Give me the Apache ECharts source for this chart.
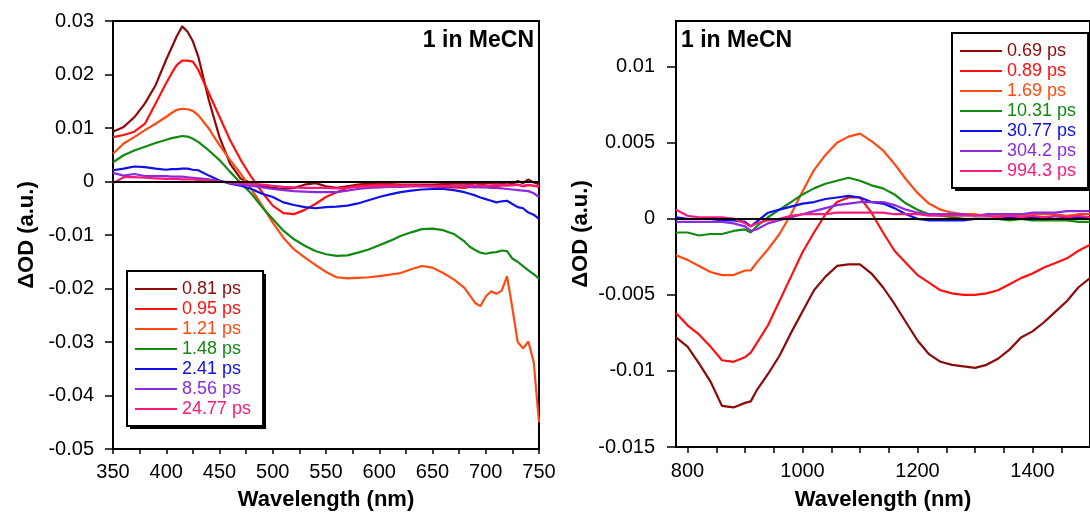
<!DOCTYPE html>
<html><head><meta charset="utf-8">
<script src="https://cdn.jsdelivr.net/npm/echarts@6/dist/echarts.min.js"></script>
<style>html,body{margin:0;padding:0;background:#fff}#c{width:1090px;height:516px}</style>
</head><body><div id="c"></div>
<script>
// ---------- Left panel (visible region) ----------
const wlLeft = [350,360,370,380,390,400,405,410,415,420,425,430,440,450,460,470,480,490,500,510,520,530,540,550,560,570,580,590,600,610,620,630,640,650,660,670,680,685,690,695,700,705,710,715,720,725,730,735,740,745,750];
const left081 = [0.0093,0.0102,0.0120,0.0146,0.0180,0.0228,0.0250,0.0272,0.0290,0.0280,0.0262,0.0234,0.0152,0.0083,0.0033,0.0005,-0.0003,-0.0008,-0.0012,-0.0014,-0.0012,-0.0006,-0.0003,-0.0009,-0.0012,-0.0009,-0.0006,-0.0004,-0.0004,-0.0005,-0.0006,-0.0006,-0.0006,-0.0006,-0.0005,-0.0004,-0.0004,-0.0005,-0.0003,-0.0005,-0.0004,-0.0002,-0.0004,-0.0003,-0.0002,-0.0005,0.0001,-0.0003,0.0004,-0.0002,-0.0005];
const left095 = [0.0083,0.0087,0.0093,0.0108,0.0146,0.0184,0.0202,0.0218,0.0226,0.0226,0.0224,0.0209,0.0165,0.0121,0.0077,0.0040,0.0008,-0.0020,-0.0045,-0.0059,-0.0061,-0.0053,-0.0042,-0.0029,-0.0020,-0.0012,-0.0008,-0.0007,-0.0006,-0.0006,-0.0007,-0.0007,-0.0008,-0.0009,-0.0011,-0.0011,-0.0012,-0.0010,-0.0011,-0.0009,-0.0009,-0.0008,-0.0009,-0.0007,-0.0008,-0.0007,-0.0006,-0.0009,-0.0007,-0.0008,-0.0010];
const left121 = [0.0052,0.0071,0.0083,0.0096,0.0108,0.0121,0.0128,0.0134,0.0136,0.0135,0.0132,0.0124,0.0099,0.0068,0.0040,0.0014,-0.0014,-0.0045,-0.0077,-0.0105,-0.0127,-0.0142,-0.0156,-0.0169,-0.0179,-0.0181,-0.0180,-0.0179,-0.0177,-0.0174,-0.0171,-0.0164,-0.0158,-0.0161,-0.0171,-0.0183,-0.0199,-0.0213,-0.0227,-0.0233,-0.0215,-0.0205,-0.0210,-0.0204,-0.0177,-0.0237,-0.0300,-0.0312,-0.0299,-0.0337,-0.0450];
const left148 = [0.0036,0.0049,0.0058,0.0065,0.0072,0.0078,0.0081,0.0083,0.0085,0.0084,0.0080,0.0074,0.0058,0.0040,0.0018,-0.0003,-0.0023,-0.0048,-0.0070,-0.0092,-0.0108,-0.0120,-0.0130,-0.0136,-0.0139,-0.0138,-0.0133,-0.0127,-0.0119,-0.0111,-0.0102,-0.0095,-0.0089,-0.0088,-0.0091,-0.0098,-0.0112,-0.0122,-0.0128,-0.0133,-0.0135,-0.0133,-0.0132,-0.0129,-0.0130,-0.0144,-0.0150,-0.0158,-0.0166,-0.0173,-0.0182];
const left241 = [0.0021,0.0024,0.0028,0.0027,0.0024,0.0022,0.0023,0.0023,0.0024,0.0024,0.0022,0.0021,0.0011,0.0002,-0.0004,-0.0008,-0.0014,-0.0023,-0.0029,-0.0039,-0.0044,-0.0048,-0.0050,-0.0048,-0.0047,-0.0045,-0.0041,-0.0035,-0.0029,-0.0024,-0.0020,-0.0017,-0.0015,-0.0014,-0.0014,-0.0016,-0.0020,-0.0023,-0.0026,-0.0030,-0.0033,-0.0036,-0.0039,-0.0037,-0.0036,-0.0042,-0.0048,-0.0050,-0.0058,-0.0062,-0.0070];
const left856 = [0.0016,0.0011,0.0014,0.0010,0.0010,0.0010,0.0009,0.0009,0.0009,0.0008,0.0007,0.0006,0.0004,0.0001,-0.0003,-0.0006,-0.0008,-0.0011,-0.0014,-0.0016,-0.0018,-0.0019,-0.0020,-0.0020,-0.0020,-0.0017,-0.0014,-0.0012,-0.0011,-0.0010,-0.0010,-0.0009,-0.0009,-0.0009,-0.0009,-0.0009,-0.0009,-0.0010,-0.0010,-0.0011,-0.0011,-0.0012,-0.0012,-0.0013,-0.0014,-0.0015,-0.0016,-0.0017,-0.0018,-0.0022,-0.0029];
const left2477 = [-0.0003,0.0008,0.0008,0.0007,0.0006,0.0005,0.0005,0.0005,0.0004,0.0004,0.0004,0.0003,0.0002,0.0000,-0.0001,-0.0003,-0.0004,-0.0006,-0.0008,-0.0010,-0.0011,-0.0012,-0.0012,-0.0012,-0.0013,-0.0012,-0.0010,-0.0009,-0.0008,-0.0008,-0.0008,-0.0008,-0.0008,-0.0008,-0.0008,-0.0008,-0.0008,-0.0007,-0.0008,-0.0007,-0.0008,-0.0007,-0.0006,-0.0007,-0.0006,-0.0007,-0.0006,-0.0008,-0.0006,-0.0008,-0.0008];
const leftNames = ['0.81 ps','0.95 ps','1.21 ps','1.48 ps','2.41 ps','8.56 ps','24.77 ps'];

// ---------- Right panel ----------
const wlRight = [780,800,820,840,860,880,900,910,920,940,960,980,1000,1020,1040,1060,1080,1100,1120,1140,1160,1180,1200,1220,1240,1260,1280,1300,1320,1340,1360,1380,1400,1420,1440,1460,1480,1500];
const right069 = [-0.0078,-0.0084,-0.0095,-0.0107,-0.0123,-0.0124,-0.0121,-0.0120,-0.0113,-0.0102,-0.0090,-0.0075,-0.0061,-0.0047,-0.0038,-0.0031,-0.0030,-0.0030,-0.0036,-0.0045,-0.0056,-0.0068,-0.0080,-0.0089,-0.0094,-0.0096,-0.0097,-0.0098,-0.0096,-0.0092,-0.0086,-0.0078,-0.0074,-0.0068,-0.0061,-0.0054,-0.0045,-0.0039];
const right089 = [-0.0062,-0.0070,-0.0076,-0.0084,-0.0093,-0.0094,-0.0091,-0.0088,-0.0082,-0.0070,-0.0054,-0.0038,-0.0022,-0.0009,0.0003,0.0011,0.0014,0.0014,0.0004,-0.0009,-0.0021,-0.0029,-0.0037,-0.0042,-0.0047,-0.0049,-0.0050,-0.0050,-0.0049,-0.0047,-0.0043,-0.0039,-0.0036,-0.0032,-0.0029,-0.0026,-0.0021,-0.0017];
const right169 = [-0.0024,-0.0027,-0.0031,-0.0035,-0.0037,-0.0037,-0.0034,-0.0034,-0.0029,-0.0020,-0.0010,0.0003,0.0018,0.0032,0.0042,0.0050,0.0054,0.0056,0.0051,0.0045,0.0036,0.0026,0.0017,0.0010,0.0006,0.0004,0.0003,0.0003,0.0002,0.0002,0.0002,0.0002,0.0003,0.0003,0.0003,0.0002,0.0003,0.0003];
const right1031 = [-0.0009,-0.0009,-0.0011,-0.0010,-0.0010,-0.0008,-0.0007,-0.0009,-0.0005,0.0001,0.0006,0.0011,0.0016,0.0020,0.0023,0.0025,0.0027,0.0025,0.0022,0.0020,0.0016,0.0010,0.0006,0.0003,0.0002,0.0001,0.0000,0.0000,0.0000,0.0000,-0.0001,0.0000,-0.0001,-0.0001,-0.0001,-0.0001,-0.0002,-0.0002];
const right3077 = [0.0001,0.0000,0.0000,0.0000,-0.0001,-0.0001,-0.0002,-0.0005,-0.0002,0.0004,0.0006,0.0008,0.0010,0.0011,0.0013,0.0014,0.0015,0.0014,0.0011,0.0010,0.0007,0.0003,0.0000,-0.0001,-0.0001,-0.0001,-0.0001,0.0000,0.0000,0.0000,0.0001,0.0000,0.0001,0.0001,0.0000,0.0001,0.0001,0.0001];
const right3042 = [-0.0002,-0.0002,-0.0002,-0.0002,-0.0002,-0.0003,-0.0005,-0.0008,-0.0007,-0.0003,-0.0001,0.0001,0.0003,0.0005,0.0007,0.0009,0.0010,0.0011,0.0011,0.0011,0.0009,0.0006,0.0004,0.0003,0.0003,0.0003,0.0003,0.0002,0.0003,0.0003,0.0003,0.0003,0.0004,0.0004,0.0004,0.0005,0.0005,0.0005];
const right9943 = [0.0006,0.0002,0.0001,0.0001,0.0001,0.0000,-0.0003,-0.0005,-0.0003,-0.0001,0.0000,0.0002,0.0003,0.0003,0.0003,0.0004,0.0004,0.0004,0.0004,0.0004,0.0003,0.0003,0.0003,0.0002,0.0002,0.0002,0.0002,0.0002,0.0002,0.0001,0.0002,0.0001,0.0002,0.0001,0.0002,0.0001,0.0002,0.0001];
const rightNames = ['0.69 ps','0.89 ps','1.69 ps','10.31 ps','30.77 ps','304.2 ps','994.3 ps'];

const colors = ['#8E0A0A','#FF1010','#FF4A12','#128A12','#1010E8','#8A2BE2','#FF1A7A'];
const leftXLabels = [350,400,450,500,550,600,650,700,750];
const rightXTicks = [800,850,900,950,1000,1050,1100,1150,1200,1250,1300,1350,1400,1450];
const rightXLabels = [800,1000,1200,1400];
const rightYTicks = [-0.015,-0.01,-0.005,0,0.005,0.01];
const titleText = '1 in MeCN';
const yName = 'ΔOD (a.u.)';
const xName = 'Wavelength (nm)';

const FONT = "'Liberation Sans', Arial, sans-serif";
const zip = (xs, ys) => xs.map((x, i) => [x, ys[i]]);
const leftSets = [left081,left095,left121,left148,left241,left856,left2477];
const rightSets = [right069,right089,right169,right1031,right3077,right3042,right9943];

const axLine = {show: true, onZero: false, lineStyle: {color: '#000', width: 2}};
const tickStyle = {color: '#000', width: 1.5};
const lblStyle = {color: '#000', fontSize: 20, fontFamily: FONT, formatter: v => String(v)};
const nameStyle = {color: '#000', fontSize: 22, fontWeight: 'bold', fontFamily: FONT};

const zeroLine = {
  silent: true, symbol: ['none','none'], label: {show: false},
  lineStyle: {color: '#000', width: 2, type: 'solid'}, data: [{yAxis: 0}]
};

const series = [];
leftSets.forEach((d, i) => series.push({
  name: leftNames[i], type: 'line', xAxisIndex: 0, yAxisIndex: 0,
  data: zip(wlLeft, d), showSymbol: false, symbol: 'none',
  lineStyle: {width: 2.2, color: colors[i]}, itemStyle: {color: colors[i]},
  z: 2, markLine: i === 0 ? zeroLine : undefined
}));
rightSets.forEach((d, i) => series.push({
  name: rightNames[i], type: 'line', xAxisIndex: 1, yAxisIndex: 1,
  data: zip(wlRight, d), showSymbol: false, symbol: 'none',
  lineStyle: {width: 2.2, color: colors[i]}, itemStyle: {color: colors[i]},
  z: 2, markLine: i === 0 ? zeroLine : undefined
}));

const legendBase = {
  orient: 'vertical', icon: 'rect', itemWidth: 42, itemHeight: 2, itemGap: 0,
  textStyle: {fontSize: 18, lineHeight: 20, fontFamily: FONT},
  padding: [8, 12, 7, 8], borderColor: '#000', borderWidth: 2, backgroundColor: '#fff',
  selectedMode: false, z: 10
};

const option = {
  animation: false,
  backgroundColor: '#fff',
  grid: [
    {left: 113, top: 21, width: 426, height: 428, show: true, borderColor: '#000', borderWidth: 2, backgroundColor: 'transparent'},
    {left: 676, top: 21, width: 424, height: 426, show: true, borderColor: '#000', borderWidth: 2, backgroundColor: 'transparent'}
  ],
  xAxis: [
    {type: 'value', gridIndex: 0, min: 350, max: 750, interval: 50,
     axisLine: axLine, splitLine: {show: false},
     axisTick: {show: true, length: 5, lineStyle: tickStyle},
     minorTick: {show: true, splitNumber: 2, length: 5, lineStyle: tickStyle},
     axisLabel: Object.assign({margin: 13, customValues: leftXLabels}, lblStyle),
     name: xName, nameLocation: 'middle', nameGap: 40, nameTextStyle: nameStyle},
    {type: 'value', gridIndex: 1, min: 780, max: 1500,
     axisLine: axLine, splitLine: {show: false},
     axisTick: {show: true, length: 6, lineStyle: tickStyle, customValues: rightXTicks},
     axisLabel: Object.assign({margin: 14, customValues: rightXLabels}, lblStyle),
     name: xName, nameLocation: 'middle', nameGap: 42, nameTextStyle: nameStyle}
  ],
  yAxis: [
    {type: 'value', gridIndex: 0, min: -0.05, max: 0.03, interval: 0.01,
     axisLine: axLine, splitLine: {show: false},
     axisTick: {show: true, length: 8, lineStyle: tickStyle},
     axisLabel: Object.assign({margin: 19}, lblStyle)},
    {type: 'value', gridIndex: 1, min: -0.015, max: 0.013,
     axisLine: axLine, splitLine: {show: false},
     axisTick: {show: true, length: 9, lineStyle: tickStyle, customValues: rightYTicks},
     axisLabel: Object.assign({margin: 21, customValues: rightYTicks}, lblStyle)}
  ],
  legend: [
    Object.assign({}, legendBase, {left: 127, top: 271,
      data: leftNames.map((n, i) => ({name: n, textStyle: {color: colors[i]}}))}),
    Object.assign({}, legendBase, {left: 952, top: 33,
      data: rightNames.map((n, i) => ({name: n, textStyle: {color: colors[i]}}))})
  ],
  graphic: [
    {type: 'rect', z: 1, shape: {x: 130, y: 274, width: 136, height: 155}, style: {fill: '#000'}},
    {type: 'rect', z: 1, shape: {x: 955, y: 36, width: 135, height: 155}, style: {fill: '#000'}},
    {type: 'text', x: 534, y: 41, z: 20, style: {text: titleText, font: "bold 23px " + FONT, fill: '#000', textAlign: 'right', textVerticalAlign: 'middle'}},
    {type: 'text', x: 681, y: 41, z: 20, style: {text: titleText, font: "bold 23px " + FONT, fill: '#000', textAlign: 'left', textVerticalAlign: 'middle'}},
    {type: 'text', x: 27, y: 235, rotation: Math.PI / 2, z: 20, style: {text: yName, font: "bold 22px " + FONT, fill: '#000', textAlign: 'center', textVerticalAlign: 'middle'}},
    {type: 'text', x: 581, y: 234, rotation: Math.PI / 2, z: 20, style: {text: yName, font: "bold 22px " + FONT, fill: '#000', textAlign: 'center', textVerticalAlign: 'middle'}}
  ],
  series: series
};

const chart = echarts.init(document.getElementById('c'), null, {renderer: 'canvas'});
chart.setOption(option);
</script>
</body></html>
